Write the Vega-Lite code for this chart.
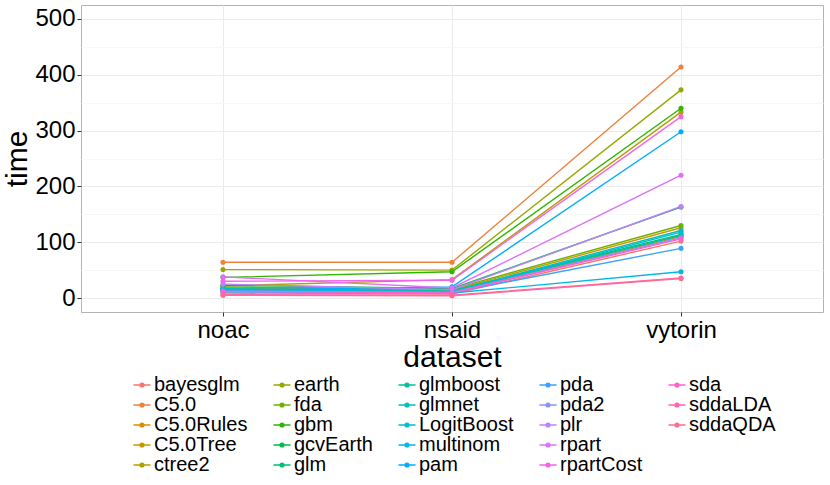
{
  "$schema": "https://vega.github.io/schema/vega-lite/v6.json",
  "autosize": "none",
  "width": 742,
  "height": 307,
  "padding": {"left": 81, "top": 5, "right": 7, "bottom": 173},
  "background": "white",
  "config": {
    "font": "Liberation Sans",
    "view": {"stroke": "#B3B3B3", "strokeWidth": 1},
    "axis": {"domain": false, "labelColor": "black", "titleColor": "black", "titleFontWeight": "normal", "tickColor": "#333333", "tickSize": 4, "labelFontSize": 24, "titleFontSize": 30}
  },
  "data": {"values": [
    {"method": "bayesglm", "dataset": "noac", "time": 9}, {"method": "bayesglm", "dataset": "nsaid", "time": 7}, {"method": "bayesglm", "dataset": "vytorin", "time": 102},
    {"method": "C5.0", "dataset": "noac", "time": 64}, {"method": "C5.0", "dataset": "nsaid", "time": 64}, {"method": "C5.0", "dataset": "vytorin", "time": 414},
    {"method": "C5.0Rules", "dataset": "noac", "time": 14}, {"method": "C5.0Rules", "dataset": "nsaid", "time": 10}, {"method": "C5.0Rules", "dataset": "vytorin", "time": 110},
    {"method": "C5.0Tree", "dataset": "noac", "time": 18}, {"method": "C5.0Tree", "dataset": "nsaid", "time": 14}, {"method": "C5.0Tree", "dataset": "vytorin", "time": 126},
    {"method": "ctree2", "dataset": "noac", "time": 22}, {"method": "ctree2", "dataset": "nsaid", "time": 33}, {"method": "ctree2", "dataset": "vytorin", "time": 333},
    {"method": "earth", "dataset": "noac", "time": 51}, {"method": "earth", "dataset": "nsaid", "time": 50}, {"method": "earth", "dataset": "vytorin", "time": 373},
    {"method": "fda", "dataset": "noac", "time": 20}, {"method": "fda", "dataset": "nsaid", "time": 16}, {"method": "fda", "dataset": "vytorin", "time": 130},
    {"method": "gbm", "dataset": "noac", "time": 37}, {"method": "gbm", "dataset": "nsaid", "time": 47}, {"method": "gbm", "dataset": "vytorin", "time": 340},
    {"method": "gcvEarth", "dataset": "noac", "time": 23}, {"method": "gcvEarth", "dataset": "nsaid", "time": 17}, {"method": "gcvEarth", "dataset": "vytorin", "time": 163},
    {"method": "glm", "dataset": "noac", "time": 16}, {"method": "glm", "dataset": "nsaid", "time": 13}, {"method": "glm", "dataset": "vytorin", "time": 114},
    {"method": "glmboost", "dataset": "noac", "time": 15}, {"method": "glmboost", "dataset": "nsaid", "time": 12}, {"method": "glmboost", "dataset": "vytorin", "time": 112},
    {"method": "glmnet", "dataset": "noac", "time": 17}, {"method": "glmnet", "dataset": "nsaid", "time": 12}, {"method": "glmnet", "dataset": "vytorin", "time": 121},
    {"method": "LogitBoost", "dataset": "noac", "time": 15}, {"method": "LogitBoost", "dataset": "nsaid", "time": 11}, {"method": "LogitBoost", "dataset": "vytorin", "time": 118},
    {"method": "multinom", "dataset": "noac", "time": 11}, {"method": "multinom", "dataset": "nsaid", "time": 9}, {"method": "multinom", "dataset": "vytorin", "time": 47},
    {"method": "pam", "dataset": "noac", "time": 14}, {"method": "pam", "dataset": "nsaid", "time": 20}, {"method": "pam", "dataset": "vytorin", "time": 298},
    {"method": "pda", "dataset": "noac", "time": 13}, {"method": "pda", "dataset": "nsaid", "time": 10}, {"method": "pda", "dataset": "vytorin", "time": 89},
    {"method": "pda2", "dataset": "noac", "time": 12}, {"method": "pda2", "dataset": "nsaid", "time": 10}, {"method": "pda2", "dataset": "vytorin", "time": 108},
    {"method": "plr", "dataset": "noac", "time": 25}, {"method": "plr", "dataset": "nsaid", "time": 15}, {"method": "plr", "dataset": "vytorin", "time": 164},
    {"method": "rpart", "dataset": "noac", "time": 38}, {"method": "rpart", "dataset": "nsaid", "time": 18}, {"method": "rpart", "dataset": "vytorin", "time": 220},
    {"method": "rpartCost", "dataset": "noac", "time": 30}, {"method": "rpartCost", "dataset": "nsaid", "time": 32}, {"method": "rpartCost", "dataset": "vytorin", "time": 325},
    {"method": "sda", "dataset": "noac", "time": 12}, {"method": "sda", "dataset": "nsaid", "time": 9}, {"method": "sda", "dataset": "vytorin", "time": 106},
    {"method": "sddaLDA", "dataset": "noac", "time": 6}, {"method": "sddaLDA", "dataset": "nsaid", "time": 5}, {"method": "sddaLDA", "dataset": "vytorin", "time": 36},
    {"method": "sddaQDA", "dataset": "noac", "time": 5}, {"method": "sddaQDA", "dataset": "nsaid", "time": 4}, {"method": "sddaQDA", "dataset": "vytorin", "time": 35}
  ]},
  "mark": {"type": "line", "strokeWidth": 1.4, "point": {"filled": true, "size": 26, "opacity": 1}},
  "encoding": {
    "x": {
      "field": "dataset", "type": "nominal",
      "scale": {"type": "point", "padding": 0.62},
      "axis": {"title": "dataset", "labelAngle": 0, "labelPadding": 2, "titlePadding": 0, "gridColor": "#EBEBEB", "grid": true}
    },
    "y": {
      "field": "time", "type": "quantitative",
      "scale": {"domain": [-25, 525], "nice": false, "zero": false},
      "axis": {
        "title": "time",
        "values": [0, 50, 100, 150, 200, 250, 300, 350, 400, 450, 500],
        "labelExpr": "datum.value % 100 === 0 ? datum.label : ''",
        "gridColor": {"condition": {"test": "datum.value % 100 === 0", "value": "#EBEBEB"}, "value": "#F7F7F7"},
        "tickColor": {"condition": {"test": "datum.value % 100 === 0", "value": "#333333"}, "value": "transparent"},
        "labelPadding": 2,
        "titlePadding": 2
      }
    },
    "color": {
      "field": "method", "type": "nominal",
      "scale": {
        "domain": ["bayesglm", "earth", "glmboost", "pda", "sda",
                   "C5.0", "fda", "glmnet", "pda2", "sddaLDA",
                   "C5.0Rules", "gbm", "LogitBoost", "plr", "sddaQDA",
                   "C5.0Tree", "gcvEarth", "multinom", "rpart", "\u00a0",
                   "ctree2", "glm", "pam", "rpartCost"],
        "range": ["#F8766D", "#97A900", "#00C198", "#3DA1FF", "#FE61CF",
                  "#EC823C", "#71B000", "#00C0B7", "#8F91FF", "#FF64B3",
                  "#DD8D00", "#2EB600", "#00BDD1", "#BE80FF", "#FF6C93",
                  "#CA9700", "#00BB4B", "#00B7E8", "#DE71F9", "transparent",
                  "#B3A000", "#00BF76", "#00AEFA", "#F265E7"]
      },
      "legend": {
        "title": null,
        "orient": "none",
        "legendX": 51,
        "legendY": 370,
        "direction": "horizontal",
        "columns": 5,
        "padding": 0,
        "labelFontSize": 20,
        "labelColor": "black",
        "labelOffset": 2,
        "labelLimit": 250,
        "symbolType": "M-1,0H1M0.22,0A0.22,0.22 0 1,1 -0.22,0A0.22,0.22 0 1,1 0.22,0",
        "symbolSize": 290,
        "symbolStrokeWidth": 1.5,
        "rowPadding": 0,
        "columnPadding": 22
      }
    }
  }
}
